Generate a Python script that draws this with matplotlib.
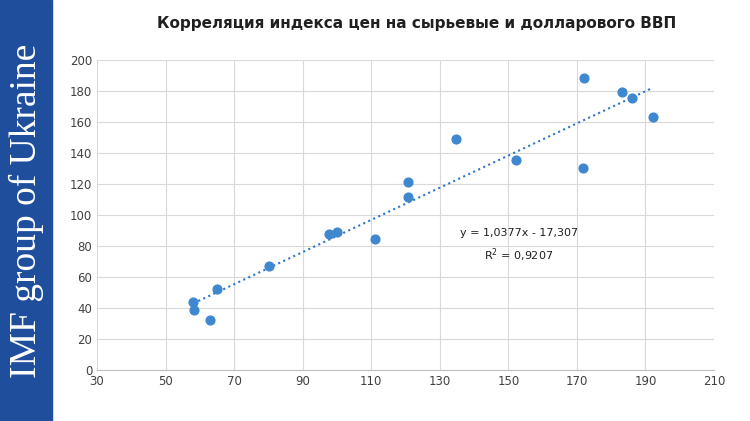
import matplotlib.pyplot as plt
import numpy as np

# commodity price index vs dollar GDP
x_vals = [58.1, 58.2, 63.0, 65.0, 80.3, 97.7, 99.9, 111.0, 120.6, 120.6,
          134.7, 152.2, 171.8, 172.2, 183.2, 186.2, 192.2]
y_vals = [44.0, 38.8, 32.4, 52.1, 67.0, 87.8, 89.0, 84.8, 121.5, 111.8,
          149.0, 135.8, 130.5, 188.2, 179.6, 175.8, 163.1]
slope = 1.0377
intercept = -17.307

fig = plt.figure(figsize=(7.5, 4.21), dpi=100)
fig.patches.append(plt.Rectangle((0, 0), 52 / 750, 1, transform=fig.transFigure,
                                 color='#1f4e9c', zorder=0))
fig.text(26 / 750, 0.5, 'IMF group of Ukraine', rotation=90, color='white',
         family='Liberation Serif', fontsize=27, ha='center', va='center')

ax = fig.add_axes([97 / 750, 1 - 370 / 421, 617 / 750, 310 / 421])
xs = np.array([min(x_vals), max(x_vals)])
ax.plot(xs, slope * xs + intercept, ls=':', color='#2e75c8', lw=1.5, zorder=2)
ax.scatter(x_vals, y_vals, s=40, color='#3f88d0', zorder=3)
ax.set_xlim(30, 210)
ax.set_ylim(0, 200)
ax.set_xticks(range(30, 211, 20))
ax.set_yticks(range(0, 201, 20))
ax.grid(color='#d9d9d9', lw=0.8)
ax.set_axisbelow(True)
for s in ['top', 'right', 'left']:
    ax.spines[s].set_visible(False)
ax.spines['bottom'].set_color('#bfbfbf')
ax.tick_params(length=0, labelsize=8.5, colors='#404040')
ax.text(153, 80, 'y = 1,0377x - 17,307\nR$^2$ = 0,9207', ha='center', va='center',
        fontsize=8, color='#202020', linespacing=1.6)
fig.text(0.555, 0.945, 'Корреляция индекса цен на сырьевые и долларового ВВП',
         ha='center', va='center', fontsize=11, fontweight='bold', color='#202020')
fig.savefig('out.png')
